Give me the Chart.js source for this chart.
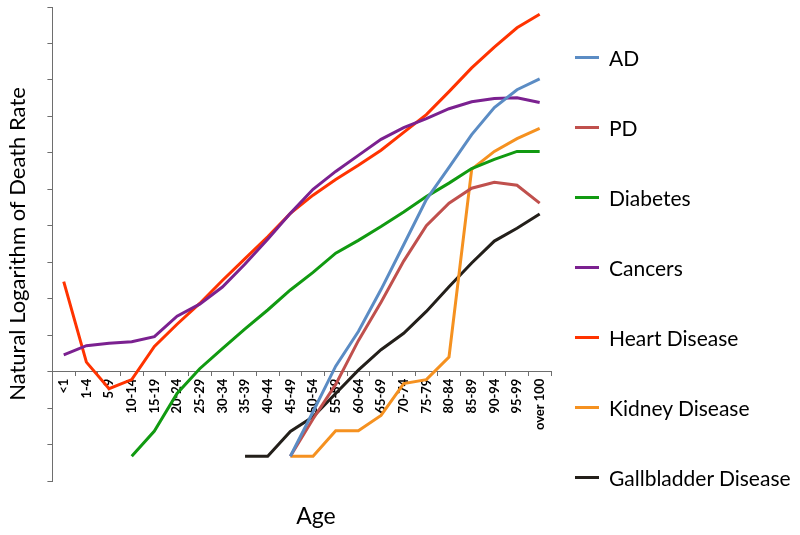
<!DOCTYPE html>
<html>
<head>
<meta charset="utf-8">
<script src="https://cdn.jsdelivr.net/npm/chart.js@4.4.1/dist/chart.umd.min.js"></script>
<style>
    html, body { margin: 0; padding: 0; background: #fff; }
    #wrap { position: relative; width: 800px; height: 535px; }
    #legend { position: absolute; left: 575px; top: 22px; font-family: Lato, sans-serif; font-size: 21px; color: #000; }
    .legend-item { display: flex; align-items: center; height: 70px; }
    .legend-line { width: 24px; height: 3px; margin-right: 10px; }
    #ageTitle { position: absolute; left: 316px; top: 515px; transform: translate(-50%, -50%); font-family: Lato, sans-serif; font-size: 23px; color: #000; }
</style>
</head>
<body>
<div id="wrap">
    <canvas id="myChart" width="800" height="535"></canvas>
    <div id="legend"></div>
    <div id="ageTitle">Age</div>
</div>
<script>
var ageGroups = ['<1', '1-4', '5-9', '10-14', '15-19', '20-24', '25-29', '30-34', '35-39', '40-44', '45-49',
    '50-54', '55-59', '60-64', '65-69', '70-74', '75-79', '80-84', '85-89', '90-94', '95-99', 'over 100'];

// natural log of death rate (null = no value)
var adValues = [null, null, null, null, null, null, null, null, null, null,
    -2.32, -1.1, 0.15, 1.1, 2.25, 3.48, 4.72, 5.6, 6.5, 7.24, 7.73, 8.03];
var pdValues = [null, null, null, null, null, null, null, null, null, null,
    -2.32, -1.3, -0.35, 0.85, 1.9, 3.03, 4.0, 4.62, 5.03, 5.19, 5.11, 4.62];
var diabetesValues = [null, null, null,
    -2.32, -1.63, -0.6, 0.08, 0.63, 1.17, 1.69, 2.24, 2.72, 3.25, 3.6, 3.98, 4.38, 4.8, 5.17, 5.57, 5.82, 6.04, 6.04];
var cancerValues = [0.46, 0.71, 0.78, 0.82, 0.96, 1.52, 1.85, 2.32, 2.95, 3.63, 4.34,
    5.0, 5.49, 5.93, 6.37, 6.69, 6.94, 7.21, 7.4, 7.49, 7.51, 7.38];
var heartValues = [2.47, 0.26, -0.47, -0.22, 0.69, 1.3, 1.87, 2.5, 3.1, 3.7, 4.34,
    4.84, 5.27, 5.66, 6.07, 6.56, 7.05, 7.68, 8.33, 8.9, 9.43, 9.8];
var kidneyValues = [null, null, null, null, null, null, null, null, null, null,
    -2.32, -2.32, -1.62, -1.62, -1.2, -0.33, -0.22, 0.4, 5.55, 6.04, 6.39, 6.67];
var gallbladderValues = [null, null, null, null, null, null, null, null,
    -2.32, -2.32, -1.64, -1.24, -0.6, 0.04, 0.6, 1.05, 1.65, 2.33, 2.98, 3.58, 3.93, 4.32];

var seriesNames = ['AD', 'PD', 'Diabetes', 'Cancers', 'Heart Disease', 'Kidney Disease', 'Gallbladder Disease'];
var seriesColors = ['#5B8CC4', '#C0504D', '#119A11', '#7B2190', '#FF3300', '#F59120', '#231F1A'];
var seriesData = [adValues, pdValues, diabetesValues, cancerValues, heartValues, kidneyValues, gallbladderValues];

var axisColor = '#6E6E6E';
var myChart = null;

document.addEventListener('DOMContentLoaded', function () {
    var datasets = seriesNames.map(function (name, i) {
        return {
            label: name,
            data: seriesData[i],
            borderColor: seriesColors[i],
            backgroundColor: seriesColors[i],
            borderWidth: 3,
            pointRadius: 0,
            tension: 0,
            spanGaps: false
        };
    });

    var ctx = document.getElementById('myChart');
    myChart = new Chart(ctx, {
        type: 'line',
        data: { labels: ageGroups, datasets: datasets },
        options: {
            responsive: false,
            animation: false,
            layout: { padding: { top: 7, right: 249, bottom: 54, left: 3 } },
            plugins: {
                legend: { display: false },
                tooltip: { enabled: false }
            },
            scales: {
                x: {
                    type: 'category',
                    position: { y: 0 },
                    offset: true,
                    grid: { drawOnChartArea: false, drawTicks: true, tickLength: 4, offset: true, color: axisColor },
                    border: { display: true, color: axisColor, width: 1 },
                    ticks: {
                        autoSkip: false,
                        minRotation: 90,
                        maxRotation: 90,
                        padding: 3,
                        color: '#000',
                        font: { family: 'Lato', size: 13, weight: 'bold' }
                    }
                },
                y: {
                    min: -3,
                    max: 10,
                    ticks: { stepSize: 1, display: false },
                    grid: { drawOnChartArea: false, drawTicks: true, tickLength: 5, color: axisColor },
                    border: { display: true, color: axisColor, width: 1 },
                    title: {
                        display: true,
                        text: 'Natural Logarithm of Death Rate',
                        color: '#000',
                        font: { family: 'Lato', size: 22 },
                        padding: { top: 2, bottom: 16 }
                    }
                }
            }
        }
    });

    // html legend, one row per series
    var legendBox = document.getElementById('legend');
    myChart.data.datasets.forEach(function (ds) {
        var item = document.createElement('div');
        item.className = 'legend-item';
        var line = document.createElement('span');
        line.className = 'legend-line';
        line.style.background = ds.borderColor;
        var text = document.createElement('span');
        text.textContent = ds.label;
        item.appendChild(line);
        item.appendChild(text);
        legendBox.appendChild(item);
    });
});
</script>
</body>
</html>
